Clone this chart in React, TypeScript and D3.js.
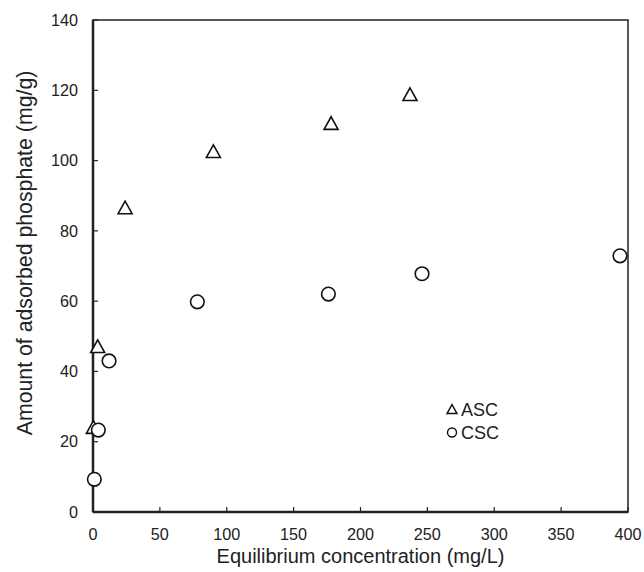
import React from "react";
import * as d3 from "d3";

const ascX = [0.3, 3.5, 24, 90, 178, 237];
const ascY = [24, 47, 86.5, 102.5, 110.5, 118.7];
const cscX = [1, 4, 12, 78, 176, 246, 394];
const cscY = [9.3, 23.3, 43, 59.8, 62, 67.8, 72.9];
const xTicks = [0, 50, 100, 150, 200, 250, 300, 350, 400];
const yTicks = [0, 20, 40, 60, 80, 100, 120, 140];

const W = 644, H = 572;
const L = 93, R = 628, T = 20, B = 512;

function tri(cx: number, cy: number, s: number) {
  const h = s * 0.9;
  return `M${cx},${cy - h * 0.55}L${cx + s / 2},${cy + h * 0.45}L${cx - s / 2},${cy + h * 0.45}Z`;
}

export default function App() {
  const x = d3.scaleLinear().domain([0, 400]).range([L, R]);
  const y = d3.scaleLinear().domain([0, 140]).range([B, T]);
  const font = "Liberation Sans, Arial, sans-serif";
  return (
    <svg width={W} height={H} style={{ position: "absolute", left: 0, top: 0, fontFamily: font }}>
      <rect x={L} y={T} width={R - L} height={B - T} fill="none" stroke="#222" strokeWidth={1.5} />
      <line x1={L} y1={T} x2={L} y2={B} stroke="#222" strokeWidth={2.5} />
      <line x1={L} y1={B} x2={R} y2={B} stroke="#222" strokeWidth={2.5} />
      {yTicks.map((t) => (
        <g key={"y" + t}>
          <line x1={L} x2={L + 5} y1={y(t)} y2={y(t)} stroke="#222" strokeWidth={1.2} />
          <text x={L - 15} y={y(t) + 5.7} textAnchor="end" fontSize={16.2} fill="#222">{t}</text>
        </g>
      ))}
      {xTicks.map((t) => (
        <g key={"x" + t}>
          <line x1={x(t)} x2={x(t)} y1={B} y2={B - 5} stroke="#222" strokeWidth={1.2} />
          <text x={x(t)} y={539.5} textAnchor="middle" fontSize={16.2} fill="#222">{t}</text>
        </g>
      ))}
      <text x={(L + R) / 2} y={563} textAnchor="middle" fontSize={20} fill="#222">Equilibrium concentration (mg/L)</text>
      <text transform={`translate(32,${253}) rotate(-90)`} textAnchor="middle" fontSize={21.3} fill="#222">Amount of adsorbed phosphate (mg/g)</text>
      {ascX.map((v, i) => (
        <path key={"a" + i} d={tri(x(v), y(ascY[i]), 14)} fill="#fff" stroke="#111" strokeWidth={1.6} />
      ))}
      {cscX.map((v, i) => (
        <circle key={"c" + i} cx={x(v)} cy={y(cscY[i])} r={6.8} fill="#fff" stroke="#111" strokeWidth={1.6} />
      ))}
      <path d={tri(452, 409.5, 10)} fill="#fff" stroke="#111" strokeWidth={1.4} />
      <text x={461} y={415.5} fontSize={18} fill="#222">ASC</text>
      <circle cx={452} cy={432.5} r={4.5} fill="#fff" stroke="#111" strokeWidth={1.4} />
      <text x={461} y={438.5} fontSize={18} fill="#222">CSC</text>
    </svg>
  );
}
